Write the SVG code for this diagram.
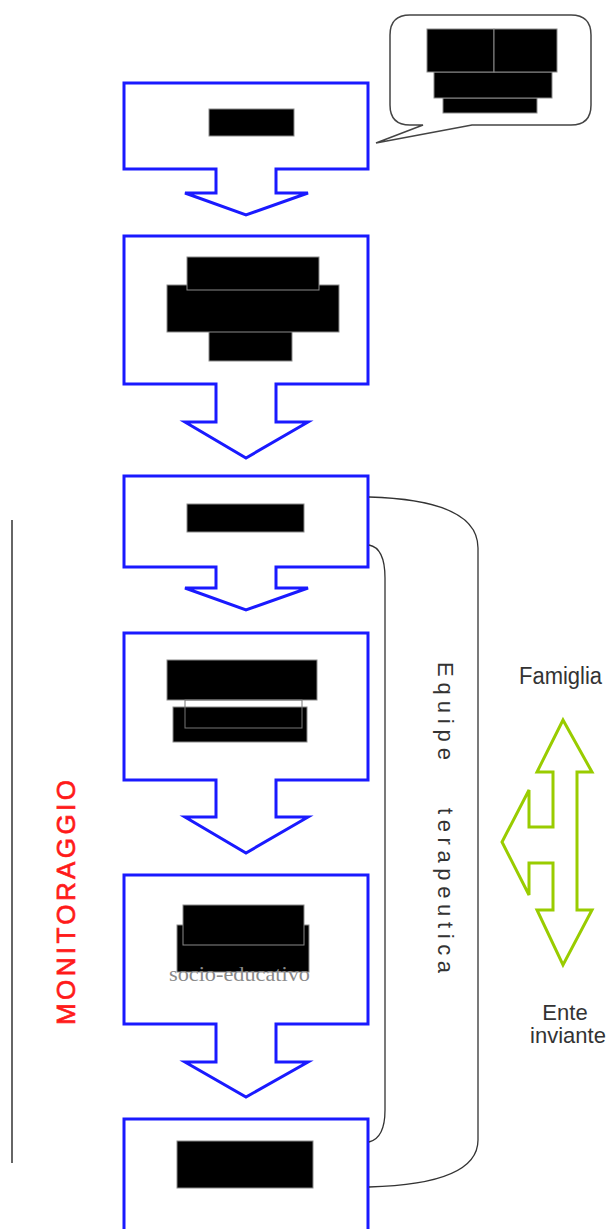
<svg xmlns="http://www.w3.org/2000/svg" width="609" height="1229" viewBox="0 0 609 1229">
<style>
.step{fill:#fff;stroke:#1a1aff;stroke-width:3;stroke-linejoin:miter}
.blk{fill:#000;stroke:#8a8a8a;stroke-width:1}
.con{fill:none;stroke:#333;stroke-width:1.3}
.lbl{font-family:"Liberation Sans",Arial,sans-serif;fill:#333}
</style>
<rect width="609" height="1229" fill="#fff"/>
<g id="bubble">
<path d="M410,15 H571 Q591,15 591,35 V105 Q591,125 571,125 H472 L376,143 L423,125 H410 Q390,125 390,105 V35 Q390,15 410,15 Z" fill="#fff" stroke="#444" stroke-width="1.5"/>
<rect class="blk" x="443" y="98" width="94" height="15"/>
<rect class="blk" x="434" y="72" width="118" height="26"/>
<rect class="blk" x="427" y="29" width="67" height="43"/>
<rect class="blk" x="494" y="29" width="63" height="43"/>
</g>
<g id="node1">
<polygon class="step" points="124,83 368,83 368,169 276,169 276,193 308,193 246,215 185,193 216,193 216,169 124,169"/>
<rect class="blk" x="209" y="109" width="85" height="27"/>
</g>
<g id="node2">
<polygon class="step" points="124,236 368,236 368,384 276,384 276,422 308,422 246,458 185,422 216,422 216,384 124,384"/>
<rect class="blk" x="209" y="330" width="83" height="31"/>
<rect class="blk" x="167" y="285" width="172" height="47"/>
<rect class="blk" x="187" y="257" width="132" height="33"/>
</g>
<g id="node3">
<polygon class="step" points="124,476 368,476 368,567 276,567 276,588 308,588 246,610 185,588 216,588 216,567 124,567"/>
<rect class="blk" x="187" y="504" width="117" height="28"/>
</g>
<g id="node4">
<polygon class="step" points="124,633 368,633 368,780 276,780 276,817 308,817 246,853 185,817 216,817 216,780 124,780"/>
<rect class="blk" x="173" y="707" width="134" height="35"/>
<rect class="blk" x="167" y="660" width="150" height="40"/>
<rect x="185" y="700" width="117" height="28" fill="none" stroke="#777" stroke-width="1"/>
</g>
<g id="node5">
<polygon class="step" points="124,875 368,875 368,1024 276,1024 276,1062 308,1062 246,1097 185,1062 216,1062 216,1024 124,1024"/>
<rect class="blk" x="177" y="925" width="132" height="47"/>
<rect class="blk" x="183" y="905" width="121" height="40"/>
<text x="169" y="981" textLength="141" lengthAdjust="spacingAndGlyphs" font-family="'Liberation Serif','Times New Roman',serif" font-size="22" fill="#8a8a8a">socio-educativo</text>
</g>
<g id="node6">
<polyline class="step" points="124,1235 124,1119 368,1119 368,1235"/>
<rect class="blk" x="177" y="1141" width="136" height="47"/>
</g>
<g id="connectors">
<path class="con" d="M369,497 Q478,500 478,548 L478,1140 Q478,1184 369,1187"/>
<path class="con" d="M369,545 Q385,548 385,578 L385,1110 Q385,1138 369,1142"/>
<line x1="12" y1="520" x2="12" y2="1163" stroke="#333" stroke-width="1.5"/>
</g>
<g id="equipe">
<text class="lbl" transform="translate(438,662) rotate(90)" font-size="22" textLength="98" lengthAdjust="spacing">Equipe</text>
<text class="lbl" transform="translate(438,808) rotate(90)" font-size="22" textLength="165" lengthAdjust="spacing">terapeutica</text>
</g>
<g id="monitoraggio">
<text transform="translate(75,1025) rotate(-90)" font-family="'Liberation Sans',Arial,sans-serif" font-size="26" fill="#ff1a1a" stroke="#ff1a1a" stroke-width="0.7" textLength="245" lengthAdjust="spacing">MONITORAGGIO</text>
</g>
<g id="relations">
<polygon points="563,720 592,772 577,772 577,910 592,910 563,965 537,910 553,910 553,863 529,863 529,895 502,842 529,790 529,827 553,827 553,772 537,772" fill="#fff" stroke="#99cc00" stroke-width="3" stroke-linejoin="miter"/>
<text class="lbl" x="519" y="684" font-size="23" textLength="83" lengthAdjust="spacingAndGlyphs">Famiglia</text>
<text class="lbl" x="565" y="1020" font-size="22" text-anchor="middle">Ente</text>
<text class="lbl" x="568" y="1043" font-size="22" text-anchor="middle">inviante</text>
</g>
</svg>
